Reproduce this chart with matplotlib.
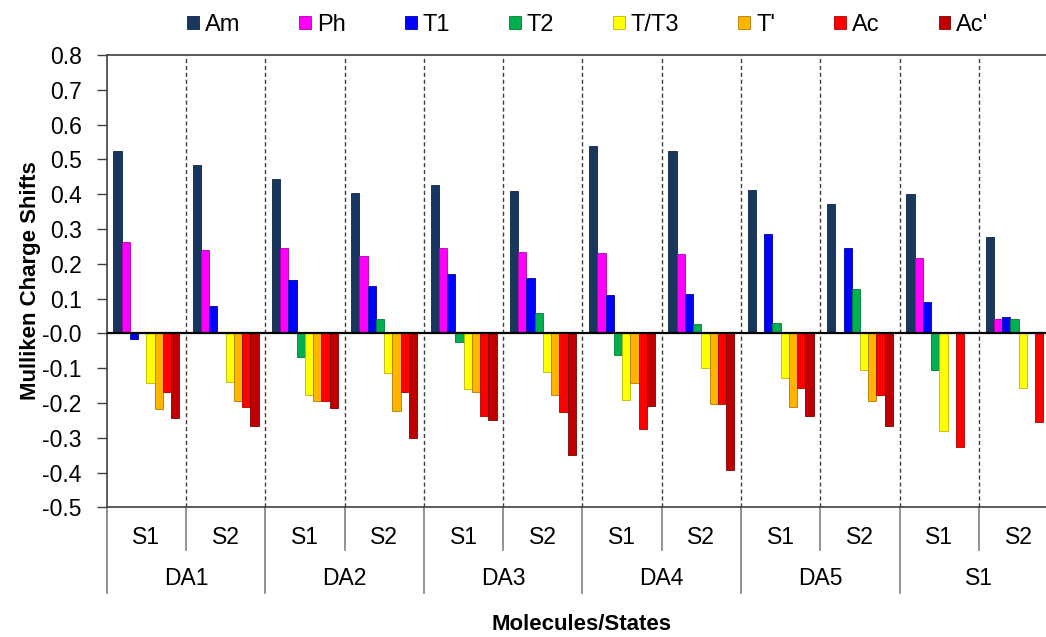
import numpy as np
import matplotlib
matplotlib.use("Agg")
import matplotlib.pyplot as plt
import matplotlib.transforms as mtransforms

plt.rcParams['font.family'] = ['Liberation Sans', 'DejaVu Sans']
plt.rcParams['axes.unicode_minus'] = False

# molecules and states on the x axis
molecules = ['DA1', 'DA2', 'DA3', 'DA4', 'DA5', 'S1']
states = ['S1', 'S2']

# one value per (molecule, state) pair, nan where no bar is drawn
series_names = ['Am', 'Ph', 'T1', 'T2', 'T/T3', "T'", 'Ac', "Ac'"]
am = [0.525, 0.484, 0.445, 0.403, 0.425, 0.410, 0.539, 0.524, 0.413, 0.371, 0.401, 0.277]
ph = [0.264, 0.240, 0.246, 0.223, 0.244, 0.234, 0.232, 0.227, np.nan, np.nan, 0.216, 0.040]
t1 = [-0.016, 0.080, 0.152, 0.137, 0.170, 0.160, 0.111, 0.114, 0.286, 0.245, 0.091, 0.046]
t2 = [np.nan, np.nan, -0.069, 0.040, -0.024, 0.058, -0.062, 0.028, 0.031, 0.127, -0.104, 0.042]
t3 = [-0.144, -0.139, -0.177, -0.115, -0.161, -0.112, -0.192, -0.101, -0.129, -0.105, -0.281, -0.156]
tp = [-0.218, -0.194, -0.194, -0.222, -0.168, -0.178, -0.144, -0.204, -0.211, -0.195, np.nan, np.nan]
ac = [-0.168, -0.211, -0.194, -0.168, -0.237, -0.227, -0.276, -0.203, -0.158, -0.177, -0.326, -0.254]
acp = [-0.243, -0.266, -0.214, -0.302, -0.249, -0.350, -0.209, -0.393, -0.237, -0.266, np.nan, np.nan]

colors = ['#17375E', '#FF00FF', '#0000FF', '#00B050', '#FFFF00', '#FFB400', '#FF0000', '#C00000']
edges = ['#0E2440', '#B000B0', '#0000A0', '#007A38', '#B8B800', '#B07C00', '#B00000', '#800000']

all_series = [am, ph, t1, t2, t3, tp, ac, acp]

fig = plt.figure(figsize=(10.46, 6.37), dpi=100)
# right edge of the plot runs past the picture, as in the original
ax = fig.add_axes([0.102, 0.2036, 0.9097, 0.710])

n = len(molecules) * len(states)
x = np.arange(n)
w = 0.104
for i, (vals, name) in enumerate(zip(all_series, series_names)):
    ax.bar(x + (i - 3.5) * w, vals, w, color=colors[i], edgecolor=edges[i],
           linewidth=0.6, label=name, zorder=3)

ax.set_xlim(-0.5, n - 0.5)
ax.set_ylim(-0.5, 0.8)
ax.set_yticks(np.round(np.arange(-0.5, 0.81, 0.1), 1))
ax.set_yticklabels(['%.1f' % v for v in np.arange(-0.5, 0.81, 0.1)], fontsize=16.5)
ax.tick_params(axis='y', length=7, width=1, color='#404040', pad=11)
ax.set_xticks([])

for s in ['left', 'top', 'bottom']:
    ax.spines[s].set_color('#404040')
    ax.spines[s].set_linewidth(1.2)
ax.spines['right'].set_visible(False)

ax.axhline(0, color='black', lw=1.6, zorder=4)
for b in np.arange(0.5, n - 0.5, 1):
    ax.axvline(b, color='#404040', lw=1, linestyle=(0, (3, 2)), zorder=1)

# two-level category axis
trans = mtransforms.blended_transform_factory(ax.transData, ax.transAxes)
for k in range(n):
    ax.text(k, -0.0663, states[k % 2], transform=trans, ha='center', va='center',
            fontsize=16.5)
for m, mol in enumerate(molecules):
    ax.text(2 * m + 0.5, -0.157, mol, transform=trans, ha='center', va='center',
            fontsize=16.5)
for b in np.arange(-0.5, n, 1):
    depth = 0.19 if int(b + 0.5) % 2 == 0 else 0.095
    ax.plot([b, b], [0, -depth], transform=trans, color='#808080', lw=1.2,
            clip_on=False)

fig.text(0.556, 0.019, 'Molecules/States', ha='center', va='center',
         fontsize=16, fontweight='bold')
fig.text(0.029, 0.559, 'Mulliken Charge Shifts', ha='center', va='center',
         rotation=90, fontsize=16, fontweight='bold')

fig.legend(loc='center', bbox_to_anchor=(0.562, 0.961), ncol=8, frameon=False,
           fontsize=17, handlelength=0.5, handleheight=0.5, handletextpad=0.25,
           columnspacing=2.5)

fig.savefig('out.png', dpi=100)
